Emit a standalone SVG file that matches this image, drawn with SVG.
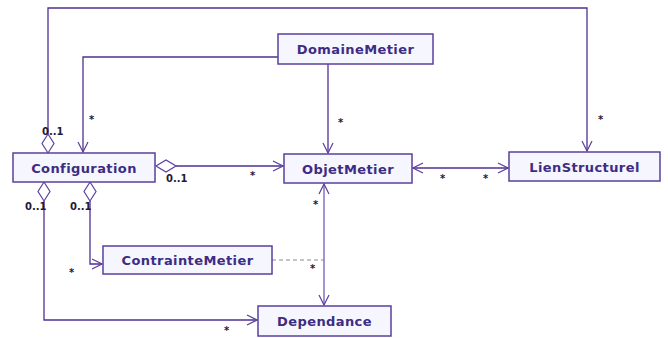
<svg xmlns="http://www.w3.org/2000/svg" width="668" height="338" viewBox="0 0 668 338">
  <defs>
    <style>
      .box { fill: #f6f6ff; stroke: #5b3f9f; stroke-width: 1.5; }
      .name { font-family: "DejaVu Sans", Verdana, sans-serif; font-weight: bold; font-size: 13px; fill: #3d2c84; text-anchor: middle; letter-spacing: 0.4px; }
      .line { fill: none; stroke: #4f3192; stroke-width: 1.3; }
      .light { fill: none; stroke: #9078c4; stroke-width: 1.6; }
      .dash { fill: none; stroke: #8a8a8a; stroke-width: 1.2; stroke-dasharray: 4 3; }
      .dia { fill: #ffffff; stroke: #5b3f9f; stroke-width: 1.2; }
      .mult { font-family: "DejaVu Sans", Verdana, sans-serif; font-weight: bold; font-size: 10px; fill: #1e1a3a; }
    </style>
    <marker id="open" viewBox="0 0 12 12" refX="11" refY="6" markerWidth="12" markerHeight="12" markerUnits="userSpaceOnUse" orient="auto">
      <path d="M1,1 L11,6 L1,11" fill="none" stroke="#5b3f9f" stroke-width="1.2"/>
    </marker>
  </defs>

  <!-- associations -->
  <g id="connectors">
    <!-- Configuration (0..1) to LienStructurel over the top -->
    <path class="line" d="M48,134 V8 H587 V151" marker-end="url(#open)"/>
    <!-- DomaineMetier to Configuration -->
    <path class="line" d="M278,57 H83 V152" marker-end="url(#open)"/>
    <!-- DomaineMetier to ObjetMetier -->
    <path class="line" d="M328,64 V153" marker-end="url(#open)"/>
    <!-- Configuration to ObjetMetier -->
    <path class="line" d="M176,166 H283" marker-end="url(#open)"/>
    <!-- ObjetMetier to LienStructurel, navigable both ways -->
    <path class="line" d="M460,168 H508" marker-end="url(#open)"/>
    <path class="line" d="M460,168 H413" marker-end="url(#open)"/>
    <!-- Configuration to Dependance -->
    <path class="line" d="M44,201 V320 H257" marker-end="url(#open)"/>
    <!-- Configuration to ContrainteMetier -->
    <path class="line" d="M90,201 V264 H102" marker-end="url(#open)"/>
    <!-- ObjetMetier to Dependance, navigable both ways -->
    <path class="light" d="M324,245 V184" marker-end="url(#open)"/>
    <path class="light" d="M324,245 V305" marker-end="url(#open)"/>
    <!-- association class link -->
    <path class="dash" d="M272,260 H324"/>

    <!-- aggregation diamonds -->
    <path class="dia" d="M48,134 L54,143.5 L48,153 L42,143.5 Z"/>
    <path class="dia" d="M156,166 L166,160 L176,166 L166,172 Z"/>
    <path class="dia" d="M44,182 L50,191.5 L44,201 L38,191.5 Z"/>
    <path class="dia" d="M90,182 L96,191.5 L90,201 L84,191.5 Z"/>

    <!-- multiplicities -->
    <text class="mult" x="42" y="135">0..1</text>
    <text class="mult" x="89" y="123">*</text>
    <text class="mult" x="338" y="126">*</text>
    <text class="mult" x="598" y="123">*</text>
    <text class="mult" x="166" y="182">0..1</text>
    <text class="mult" x="250" y="179">*</text>
    <text class="mult" x="440" y="182">*</text>
    <text class="mult" x="483" y="182">*</text>
    <text class="mult" x="25" y="210">0..1</text>
    <text class="mult" x="70" y="210">0..1</text>
    <text class="mult" x="313" y="208">*</text>
    <text class="mult" x="310" y="272">*</text>
    <text class="mult" x="69" y="276">*</text>
    <text class="mult" x="224" y="334">*</text>
  </g>

  <g id="DomaineMetier">
    <rect class="box" x="278" y="34" width="155" height="30"/>
    <text class="name" x="355.5" y="54">DomaineMetier</text>
  </g>
  <g id="Configuration">
    <rect class="box" x="13" y="153" width="142" height="29"/>
    <text class="name" x="84" y="173">Configuration</text>
  </g>
  <g id="ObjetMetier">
    <rect class="box" x="284" y="154" width="128" height="29"/>
    <text class="name" x="348" y="174">ObjetMetier</text>
  </g>
  <g id="LienStructurel">
    <rect class="box" x="509" y="152" width="151" height="29"/>
    <text class="name" x="584.5" y="172">LienStructurel</text>
  </g>
  <g id="ContrainteMetier">
    <rect class="box" x="103" y="246" width="169" height="28"/>
    <text class="name" x="187.5" y="265">ContrainteMetier</text>
  </g>
  <g id="Dependance">
    <rect class="box" x="258" y="306" width="133" height="30"/>
    <text class="name" x="324.5" y="326">Dependance</text>
  </g>
</svg>
